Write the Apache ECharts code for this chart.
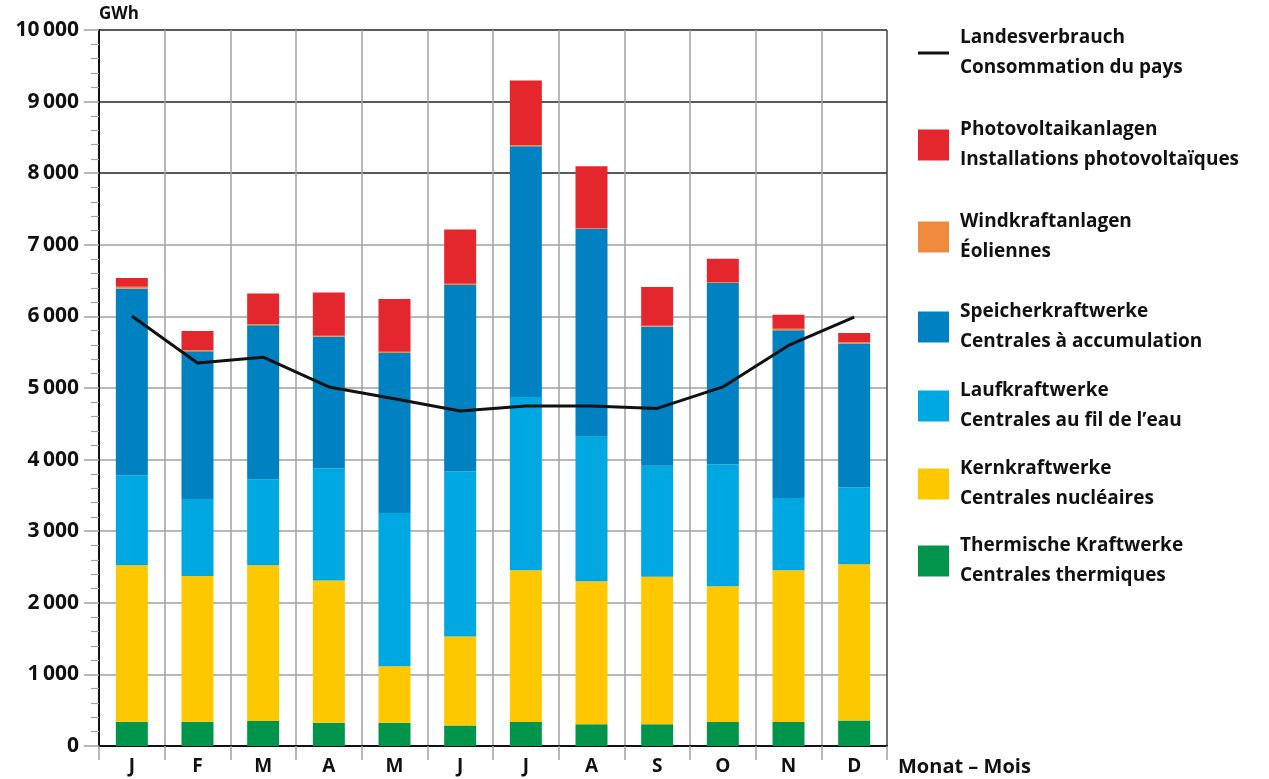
<!DOCTYPE html>
<html>
<head>
<meta charset="utf-8">
<script src="https://cdn.jsdelivr.net/npm/echarts@6/dist/echarts.min.js"></script>
<style>
html,body{margin:0;padding:0;background:#fff;}
#chart{width:1269px;height:779px;}
</style>
</head>
<body>
<div id="chart"></div>
<script>
const months = ['J','F','M','A','M','J','J','A','S','O','N','D'];
const thermal = [340, 340, 350, 325, 325, 285, 335, 305, 305, 335, 335, 355];
const nuclear = [2185, 2035, 2175, 1985, 790, 1245, 2120, 1995, 2060, 1895, 2120, 2185];
const runOfRiver = [1255, 1075, 1200, 1565, 2140, 2305, 2420, 2020, 1550, 1700, 1010, 1070];
const storage = [2605, 2065, 2150, 1840, 2235, 2605, 3500, 2900, 1940, 2535, 2340, 2010];
const wind = [30, 15, 20, 15, 18, 15, 15, 12, 14, 15, 22, 18];
const solar = [120, 265, 425, 605, 735, 760, 905, 865, 540, 325, 195, 130];
const consumption = [6005, 5350, 5430, 5015, 4850, 4680, 4750, 4750, 4715, 5015, 5595, 5990];

const names = {
  cons: ['Landesverbrauch', 'Consommation du pays'],
  solar: ['Photovoltaikanlagen', 'Installations photovoltaïques'],
  wind: ['Windkraftanlagen', 'Éoliennes'],
  storage: ['Speicherkraftwerke', 'Centrales à accumulation'],
  river: ['Laufkraftwerke', 'Centrales au fil de l’eau'],
  nuclear: ['Kernkraftwerke', 'Centrales nucléaires'],
  thermal: ['Thermische Kraftwerke', 'Centrales thermiques']
};
const colors = {
  cons: '#111111', solar: '#e4272c', wind: '#ef8a3f', storage: '#0081c2',
  river: '#00a8e1', nuclear: '#fec800', thermal: '#00954b'
};
const FONT = '"Open Sans", sans-serif';

const chart = echarts.init(document.getElementById('chart'), null, {renderer: 'canvas'});

function bar(key, data) {
  return {
    name: names[key][0], type: 'bar', stack: 'prod', data: data,
    barWidth: 32, itemStyle: {color: colors[key]}, emphasis: {disabled: true}
  };
}

function legendFor(key, centerY, isLine) {
  return {
    data: [names[key][0]],
    left: 918, top: centerY - 30, padding: 0,
    orient: 'vertical',
    itemWidth: 31, itemHeight: isLine ? 3 : 31,
    icon: 'rect',
    formatter: () => names[key][0] + '\n' + names[key][1],
    textStyle: {fontFamily: FONT, fontWeight: 'bold', fontSize: 19, color: '#111', lineHeight: 30, padding: [0, 0, 0, 6]}
  };
}

const ySplitColors = ['#a0a0a0','#a0a0a0','#a0a0a0','#a0a0a0','#a0a0a0','#a0a0a0','#a0a0a0','#a0a0a0','#222','#222','#222'];
const xSplitColors = ['#a0a0a0','#a0a0a0','#a0a0a0','#a0a0a0','#a0a0a0','#a0a0a0','#a0a0a0','#a0a0a0','#a0a0a0','#a0a0a0','#a0a0a0','#a0a0a0','#444'];

chart.setOption({
  animation: false,
  backgroundColor: '#fff',
  grid: {left: 99, right: 382, top: 30, bottom: 33, containLabel: false},
  legend: [
    legendFor('cons', 53, true),
    legendFor('solar', 145),
    legendFor('wind', 237),
    legendFor('storage', 327),
    legendFor('river', 406),
    legendFor('nuclear', 484),
    legendFor('thermal', 561)
  ],
  xAxis: {
    type: 'category', data: months, boundaryGap: true,
    name: 'Monat – Mois', nameLocation: 'end', nameGap: 11,
    nameTextStyle: {fontFamily: FONT, fontWeight: 'bold', fontSize: 20, color: '#111', verticalAlign: 'top', padding: [11, 0, 0, 0]},
    axisLine: {show: true, lineStyle: {color: '#111', width: 2}},
    axisTick: {show: true, alignWithLabel: false, length: 14, lineStyle: {color: '#a0a0a0', width: 1.5}},
    axisLabel: {fontFamily: FONT, fontWeight: 'bold', fontSize: 19, color: '#111', margin: 11},
    splitLine: {show: true, lineStyle: {color: xSplitColors, width: 1.5}}
  },
  yAxis: [{
    type: 'value', min: 0, max: 10000, interval: 1000,
    name: 'GWh', nameLocation: 'end', nameGap: 7,
    nameTextStyle: {fontFamily: FONT, fontWeight: 'bold', fontSize: 17, color: '#111', align: 'left', padding: [0, 0, 0, 0]},
    axisLine: {show: true, lineStyle: {color: '#111', width: 2}},
    axisTick: {show: true, length: 15, lineStyle: {color: '#a0a0a0', width: 1.5}},
    minorTick: {show: true, splitNumber: 5, length: 8, lineStyle: {color: '#a0a0a0', width: 1.2}},
    axisLabel: {
      fontFamily: FONT, fontWeight: 'bold', fontSize: 21, color: '#111', margin: 20,
      formatter: v => v >= 1000 ? String(Math.floor(v / 1000)) + '\u2009' + String(v % 1000).padStart(3, '0') : String(v)
    },
    splitLine: {show: true, lineStyle: {color: ySplitColors, width: 1.5}}
  }],
  series: [
    bar('thermal', thermal),
    bar('nuclear', nuclear),
    bar('river', runOfRiver),
    bar('storage', storage),
    bar('wind', wind),
    bar('solar', solar),
    {
      name: names.cons[0], type: 'line', data: consumption, z: 5,
      showSymbol: false, symbol: 'none',
      lineStyle: {color: colors.cons, width: 3}, itemStyle: {color: colors.cons},
      emphasis: {disabled: true}
    }
  ]
});
</script>
</body>
</html>
